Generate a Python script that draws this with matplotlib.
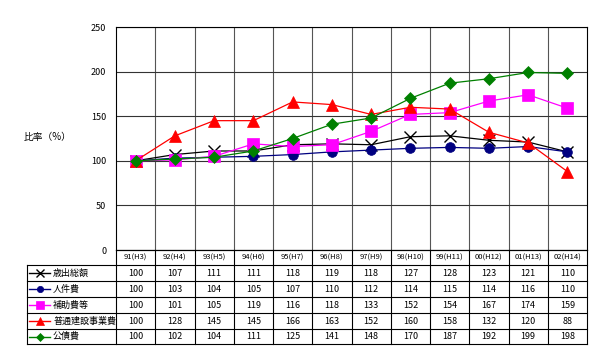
import matplotlib
matplotlib.use("Agg")
import matplotlib.pyplot as plt
from matplotlib.lines import Line2D

plt.rcParams['font.family'] = ['Noto Sans CJK JP', 'DejaVu Sans']

categories = ["91(H3)", "92(H4)", "93(H5)", "94(H6)", "95(H7)", "96(H8)",
              "97(H9)", "98(H10)", "99(H11)", "00(H12)", "01(H13)", "02(H14)"]
series_names = ["歳出総額", "人件費", "補助費等", "普通建設事業費", "公債費"]
total = [100, 107, 111, 111, 118, 119, 118, 127, 128, 123, 121, 110]
personnel = [100, 103, 104, 105, 107, 110, 112, 114, 115, 114, 116, 110]
subsidy = [100, 101, 105, 119, 116, 118, 133, 152, 154, 167, 174, 159]
construction = [100, 128, 145, 145, 166, 163, 152, 160, 158, 132, 120, 88]
debt = [100, 102, 104, 111, 125, 141, 148, 170, 187, 192, 199, 198]
yticks = [0, 50, 100, 150, 200, 250]

series = [total, personnel, subsidy, construction, debt]
colors = ["#000000", "#000080", "#FF00FF", "#FF0000", "#008000"]
markers = ["x", "o", "s", "^", "D"]
msizes = [8, 7, 9, 8, 6]

W, H = 600, 359
fig = plt.figure(figsize=(W / 100, H / 100), dpi=100)
fig.patch.set_facecolor("white")

left, right, top, bottom = 116, 587, 27, 250
ax = fig.add_axes([left / W, 1 - bottom / H, (right - left) / W, (bottom - top) / H])
n = len(categories)
x = list(range(n))
for s, c, m, ms in zip(series, colors, markers, msizes):
    ax.plot(x, s, color=c, marker=m, markersize=ms, lw=0.9,
            markeredgewidth=1.0 if m == "x" else 0.5, markeredgecolor=c, zorder=3)
ax.set_xlim(-0.5, n - 0.5)
ax.set_ylim(0, 250)
ax.set_yticks(yticks)
ax.set_yticklabels([str(t) for t in yticks], fontsize=6.5)
ax.set_xticks([i + 0.5 for i in range(n - 1)], minor=False)
ax.set_xticklabels([])
ax.tick_params(axis='y', length=0, pad=7)
ax.tick_params(axis='x', length=0)
ax.grid(True, axis='y', color='#333333', lw=0.8)
ax.grid(True, axis='x', color='#555555', lw=0.8)
for sp in ax.spines.values():
    sp.set_color('#000000')
    sp.set_linewidth(0.8)

# overlay for table
ov = fig.add_axes([0, 0, 1, 1], facecolor='none')
ov.set_xlim(0, W)
ov.set_ylim(H, 0)
ov.axis('off')

ov.text(48, 137, "比率（%）", fontsize=7, ha='center', va='center')

colw = (right - left) / n
row_y = [250, 265, 281, 297, 313, 329, 344]
tl = 27
lc = '#000000'
for i in range(n + 1):
    xx = left + i * colw
    ov.plot([xx, xx], [row_y[0], row_y[-1]], color=lc, lw=0.8)
ov.plot([left, right], [row_y[0], row_y[0]], color=lc, lw=0.8)
ov.plot([tl, tl], [row_y[1], row_y[-1]], color=lc, lw=0.8)
for j in range(1, len(row_y)):
    ov.plot([tl, right], [row_y[j], row_y[j]], color=lc, lw=0.8)
for i, cat in enumerate(categories):
    ov.text(left + (i + 0.5) * colw, (row_y[0] + row_y[1]) / 2, cat,
            fontsize=5.5, ha='center', va='center')
for r, (name, s, c, m, ms) in enumerate(zip(series_names, series, colors, markers, msizes)):
    yc = (row_y[r + 1] + row_y[r + 2]) / 2
    ov.add_line(Line2D([29, 50], [yc, yc], color=c, lw=1.0))
    ov.plot([40], [yc], marker=m, color=c, markersize=ms * 0.65, markeredgecolor=c,
            markeredgewidth=1.0 if m == "x" else 0.5)
    ov.text(53, yc, name, fontsize=6.5, ha='left', va='center')
    for i, v in enumerate(s):
        ov.text(left + (i + 0.5) * colw, yc, str(v), fontsize=6.5,
                ha='center', va='center')

fig.savefig("out.png", dpi=100)
